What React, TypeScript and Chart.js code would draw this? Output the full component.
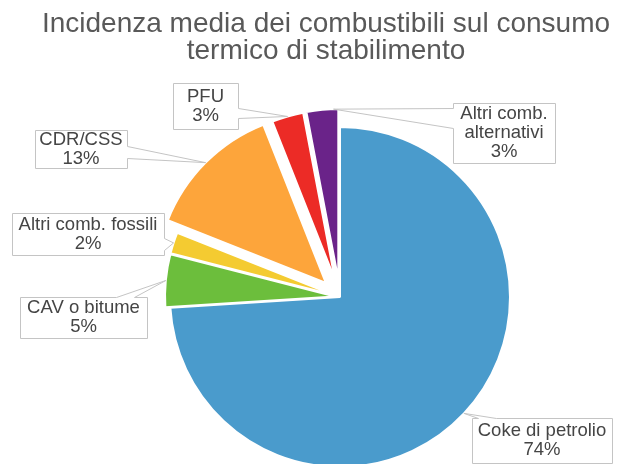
import React, { useEffect, useRef } from "react";
import { Chart, registerables } from "chart.js";

Chart.register(...registerables);

// ---- data ----
const TITLE_LINES = [
  "Incidenza media dei combustibili sul consumo",
  "termico di stabilimento",
];
const CATEGORIES = [
  "Coke di petrolio",
  "CAV o bitume",
  "Altri comb. fossili",
  "CDR/CSS",
  "PFU",
  "Altri comb.\nalternativi",
];
const VALUES = [74, 5, 2, 13, 3, 3];
const COLORS = ["#4A9BCC", "#6CBE3C", "#F4CB31", "#FDA53B", "#EC2B26", "#6A2389"];

// ---- layout / style ----
const EXPLODE = [0, 5, 5, 20, 18, 18];
type Callout = {
  box: [number, number, number, number];
  side: "top" | "left" | "right";
  base: [number, number];
  frac: number;
};
const CALLOUTS: Callout[] = [
  { box: [472, 418, 612, 463], side: "top", base: [478, 496], frac: 0.5 },
  { box: [20, 297, 147, 338], side: "top", base: [116, 134], frac: 0.5 },
  { box: [12, 213, 164, 255], side: "right", base: [238, 250], frac: 0.5 },
  { box: [35, 130, 127, 168], side: "right", base: [146, 158], frac: 0.5 },
  { box: [173, 83, 238, 129], side: "right", base: [108, 118], frac: 0.5 },
  { box: [453, 103, 555, 163], side: "left", base: [108, 128], frac: 0.85 },
];
const FONT = "'Liberation Sans', Arial, Helvetica, sans-serif";

const explodePlugin = {
  id: "explode",
  beforeDatasetDraw(chart: any, args: any) {
    const ctx = chart.ctx;
    args.meta.data.forEach((arc: any, i: number) => {
      const mid = (arc.startAngle + arc.endAngle) / 2;
      const e = EXPLODE[i] || 0;
      ctx.save();
      ctx.translate(Math.cos(mid) * e, Math.sin(mid) * e);
      arc.draw(ctx);
      ctx.restore();
    });
    return false;
  },
};

const calloutPlugin = {
  id: "callouts",
  afterDatasetsDraw(chart: any) {
    const ctx = chart.ctx;
    const meta = chart.getDatasetMeta(0);
    const data = chart.data.datasets[0].data as number[];
    const total = data.reduce((a, b) => a + b, 0);
    meta.data.forEach((arc: any, i: number) => {
      const c = CALLOUTS[i];
      if (!c) return;
      const mid = (arc.startAngle + arc.endAngle) / 2;
      const e = EXPLODE[i] || 0;
      const ax0 = arc.x + Math.cos(mid) * e;
      const ay0 = arc.y + Math.sin(mid) * e;
      const ang = arc.startAngle + c.frac * (arc.endAngle - arc.startAngle);
      const ax = ax0 + Math.cos(ang) * arc.outerRadius;
      const ay = ay0 + Math.sin(ang) * arc.outerRadius;
      const [L0, T0, R0, B0] = c.box;
      const L = L0 + 0.5, T = T0 + 0.5, R = R0 + 0.5, B = B0 + 0.5;
      const [b1, b2] = c.base;
      ctx.save();
      ctx.beginPath();
      if (c.side === "top") {
        ctx.moveTo(L, T);
        ctx.lineTo(b1 + 0.5, T);
        ctx.lineTo(ax, ay);
        ctx.lineTo(b2 + 0.5, T);
        ctx.lineTo(R, T);
        ctx.lineTo(R, B);
        ctx.lineTo(L, B);
      } else if (c.side === "right") {
        ctx.moveTo(L, T);
        ctx.lineTo(R, T);
        ctx.lineTo(R, b1 + 0.5);
        ctx.lineTo(ax, ay);
        ctx.lineTo(R, b2 + 0.5);
        ctx.lineTo(R, B);
        ctx.lineTo(L, B);
      } else {
        ctx.moveTo(L, T);
        ctx.lineTo(R, T);
        ctx.lineTo(R, B);
        ctx.lineTo(L, B);
        ctx.lineTo(L, b2 + 0.5);
        ctx.lineTo(ax, ay);
        ctx.lineTo(L, b1 + 0.5);
      }
      ctx.closePath();
      ctx.fillStyle = "#FFFFFF";
      ctx.fill();
      ctx.lineWidth = 1;
      ctx.strokeStyle = "#C4C4C4";
      ctx.stroke();

      const label = String(chart.data.labels[i]);
      const pct = Math.round((data[i] / total) * 100) + "%";
      const lines = [...label.split("\n"), pct];
      ctx.fillStyle = "#454545";
      ctx.font = `18.5px ${FONT}`;
      ctx.textAlign = "center";
      ctx.textBaseline = "middle";
      const cx = (L0 + R0) / 2;
      const cy = (T0 + B0) / 2;
      const lh = 19;
      lines.forEach((t, k) => {
        ctx.fillText(t, cx, cy + (k - (lines.length - 1) / 2) * lh);
      });
      ctx.restore();
    });
  },
  afterDraw(chart: any) {
    const ctx = chart.ctx;
    ctx.save();
    ctx.fillStyle = "#595959";
    ctx.font = `28px ${FONT}`;
    ctx.textAlign = "center";
    ctx.textBaseline = "middle";
    TITLE_LINES.forEach((t, k) => {
      ctx.fillText(t, 326, 24 + k * 27);
    });
    ctx.restore();
  },
};

export default function App() {
  const ref = useRef<HTMLCanvasElement | null>(null);
  useEffect(() => {
    if (!ref.current) return;
    const chart = new Chart(ref.current, {
      type: "pie",
      data: {
        labels: CATEGORIES,
        datasets: [
          {
            data: VALUES,
            backgroundColor: COLORS,
            borderColor: "#FFFFFF",
            borderWidth: 2,
            clip: false as any,
          } as any,
        ],
      },
      options: {
        responsive: false,
        animation: false,
        devicePixelRatio: 1,
        radius: 170,
        events: [],
        layout: { padding: { left: 50, right: 0, top: 130, bottom: 0 } },
        plugins: {
          legend: { display: false },
          tooltip: { enabled: false },
          title: { display: false },
        },
      } as any,
      plugins: [explodePlugin, calloutPlugin],
    });
    return () => chart.destroy();
  }, []);
  return (
    <div
      style={{
        position: "fixed",
        left: 0,
        top: 0,
        width: 630,
        height: 464,
        overflow: "hidden",
        background: "#FFFFFF",
      }}
    >
      <canvas ref={ref} width={630} height={464} style={{ display: "block" }} />
    </div>
  );
}
